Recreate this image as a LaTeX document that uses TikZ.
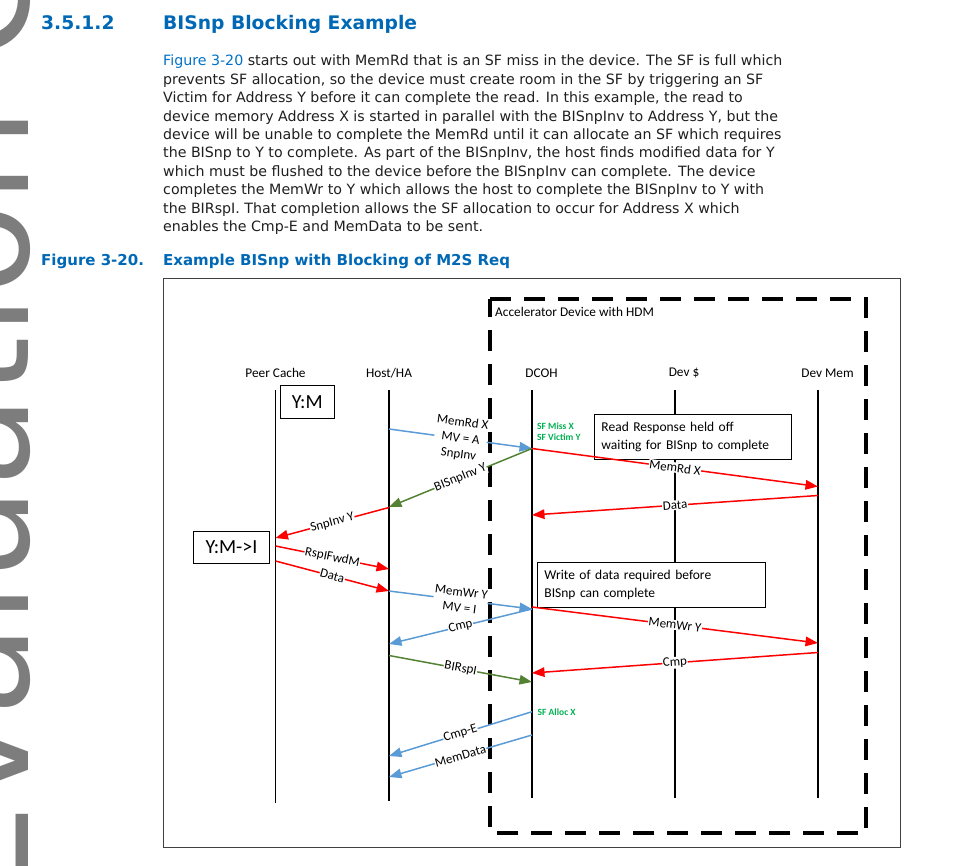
\documentclass[tikz,border=0pt]{standalone}
\usepackage{fontspec}
\setmainfont{DejaVu Sans}
\newfontfamily\calfont{Carlito}
\usetikzlibrary{arrows.meta}
\definecolor{intelblue}{RGB}{0,104,181}
\definecolor{linkblue}{RGB}{0,113,197}
\definecolor{msgred}{RGB}{255,0,0}
\definecolor{msgblue}{RGB}{91,155,213}
\definecolor{msggreen}{RGB}{84,130,53}
\definecolor{sfgreen}{RGB}{0,176,80}
\definecolor{wmgray}{RGB}{125,125,125}
\definecolor{framegray}{RGB}{64,64,64}
\begin{document}
\begin{tikzpicture}[x=1pt,y=-1pt,
  body/.style={anchor=base west, inner sep=0, font=\fontsize{14.2}{18}\selectfont, text=black!88},
  head/.style={anchor=base west, inner sep=0, font=\bfseries\fontsize{18.7}{20}\selectfont, text=intelblue},
  capt/.style={anchor=base west, inner sep=0, font=\bfseries\fontsize{15}{17}\selectfont, text=intelblue},
  lifeline/.style={line width=1.4pt, black},
  msg/.style={line width=1.5pt, -{Triangle[length=12.5pt,width=9.5pt]}},
  lbl/.style={font=\calfont\fontsize{13}{16}\selectfont, text=black, fill=white, inner sep=0.6pt, sloped, align=center},
  hdr/.style={font=\calfont\fontsize{13.3}{15}\selectfont, inner sep=0},
  sfnote/.style={font=\calfont\bfseries\fontsize{9.5}{11}\selectfont, text=sfgreen, inner sep=0, anchor=west},
  statebox/.style={draw, line width=0.9pt, fill=white, font=\calfont\fontsize{20}{22}\selectfont, inner sep=0, anchor=north west},
  notebox/.style={draw, line width=0.9pt, fill=white, font=\calfont\fontsize{13.5}{18}\selectfont, inner xsep=7pt, inner ysep=0, align=left, anchor=north west},
]
\useasboundingbox (0,0) rectangle (979,866);
% watermark
\begin{scope}
\clip (0,0) rectangle (979,866);
\node[rotate=90, anchor=base west, inner sep=0, font=\fontsize{150}{150}\selectfont, text=wmgray] (wm) at (28,900) {Evaluation Copy};
\end{scope}
% heading
\node[head] (hnum) at (41,30) {3.5.1.2};
\node[head] (htitle) at (163,30) {BISnp Blocking Example};
% body
\node[body] (t1) at (163,66) {\textcolor{linkblue}{Figure 3-20} starts out with MemRd that is an SF miss in the device. The SF is full which};
\node[body] (t2) at (163,84.4) {prevents SF allocation, so the device must create room in the SF by triggering an SF};
\node[body] (t3) at (163,102.8) {Victim for Address Y before it can complete the read. In this example, the read to};
\node[body] (t4) at (163,121.2) {device memory Address X is started in parallel with the BISnpInv to Address Y, but the};
\node[body] (t5) at (163,139.6) {device will be unable to complete the MemRd until it can allocate an SF which requires};
\node[body] (t6) at (163,158) {the BISnp to Y to complete. As part of the BISnpInv, the host finds modified data for Y};
\node[body] (t7) at (163,176.4) {which must be flushed to the device before the BISnpInv can complete. The device};
\node[body] (t8) at (163,194.8) {completes the MemWr to Y which allows the host to complete the BISnpInv to Y with};
\node[body] (t9) at (163,213.2) {the BIRspI. That completion allows the SF allocation to occur for Address X which};
\node[body] (t10) at (163,231.6) {enables the Cmp-E and MemData to be sent.};
% caption
\node[capt] (cnum) at (41,266) {Figure 3-20.};
\node[capt] (ctitle) at (163,266) {Example BISnp with Blocking of M2S Req};
% frame
\draw[line width=1pt, framegray] (163,279) rectangle (900,847);
% dashed device box
\draw[line width=4pt, dash pattern=on 21pt off 13pt] (490,299) -- (866,299) -- (866,833) -- (490,833) -- cycle;
\node[hdr, anchor=west] (acc) at (495,312) {Accelerator Device with HDM};
% headers
\node[hdr] (hpc) at (275.5,373) {Peer Cache};
\node[hdr] (hha) at (389,373) {Host/HA};
\node[hdr] (hdc) at (541.5,373) {DCOH};
\node[hdr] (hds) at (684,373) {Dev \$};
\node[hdr] (hdm) at (827.5,373) {Dev Mem};
% lifelines
\coordinate (pcT) at (275.5,390); \coordinate (pcB) at (275.5,803);
\coordinate (haT) at (389,390);   \coordinate (haB) at (389,801);
\coordinate (dcT) at (532,390);   \coordinate (dcB) at (532,798);
\coordinate (dsT) at (675,390);   \coordinate (dsB) at (675,798);
\coordinate (dmT) at (818,390);   \coordinate (dmB) at (818,798);
\draw[lifeline] (pcT) -- (pcB);
\draw[lifeline] (haT) -- (haB);
\draw[lifeline] (dcT) -- (dcB);
\draw[lifeline] (dsT) -- (dsB);
\draw[lifeline] (dmT) -- (dmB);
% state boxes
\node[statebox, minimum width=53.6pt, minimum height=33pt] (ym) at (280,385) {Y:M};
\node[statebox, minimum width=76.6pt, minimum height=32.3pt] (ymi) at (192.7,531) {Y:M->I};
% message endpoints
\coordinate (m1a) at (389,429);   \coordinate (m1b) at (532,448.5);
\coordinate (m2a) at (532,448.5); \coordinate (m2b) at (389,507);
\coordinate (m3a) at (532,448.5); \coordinate (m3b) at (818,486.5);
\coordinate (m4a) at (818,495.5); \coordinate (m4b) at (532,515);
\coordinate (m5a) at (389,507.5); \coordinate (m5b) at (275.5,538);
\coordinate (m6a) at (275.5,546); \coordinate (m6b) at (389,569);
\coordinate (m7a) at (275.5,561); \coordinate (m7b) at (389,591);
\coordinate (m8a) at (389,591);   \coordinate (m8b) at (532,609);
\coordinate (m9a) at (532,607);   \coordinate (m9b) at (818,643);
\coordinate (m10a) at (532,609);  \coordinate (m10b) at (389,644);
\coordinate (m11a) at (389,655.5); \coordinate (m11b) at (532,682);
\coordinate (m12a) at (818,652.5); \coordinate (m12b) at (532,673);
\coordinate (m13a) at (532,711.7); \coordinate (m13b) at (389,756);
\coordinate (m14a) at (532,735);  \coordinate (m14b) at (389,777);
% notes
\node[notebox, minimum width=197pt, minimum height=45pt, text width=183pt] (n1) at (594,414) {Read Response held off\\waiting for BISnp to complete};
\node[notebox, minimum width=228pt, minimum height=45pt, text width=214pt] (n2) at (537,562) {Write of data required before\\BISnp can complete};
% messages
\draw[msg, msgblue] (m1a) -- node[lbl] (l1) {MemRd X\\MV = A\\SnpInv} (m1b);
\draw[msg, msggreen] (m2a) -- node[lbl] (l2) {BISnpInv Y} (m2b);
\draw[msg, msgred] (m3a) -- node[lbl] (l3) {MemRd X} (m3b);
\draw[msg, msgred] (m4a) -- node[lbl] (l4) {Data} (m4b);
\draw[msg, msgred] (m5a) -- node[lbl] (l5) {SnpInv Y} (m5b);
\draw[msg, msgred] (m6a) -- node[lbl] (l6) {RspIFwdM} (m6b);
\draw[msg, msgred] (m7a) -- node[lbl] (l7) {Data} (m7b);
\draw[msg, msgblue] (m8a) -- node[lbl] (l8) {MemWr Y\\MV = I} (m8b);
\draw[msg, msgred] (m9a) -- node[lbl] (l9) {MemWr Y} (m9b);
\draw[msg, msgblue] (m10a) -- node[lbl] (l10) {Cmp} (m10b);
\draw[msg, msggreen] (m11a) -- node[lbl] (l11) {BIRspI} (m11b);
\draw[msg, msgred] (m12a) -- node[lbl] (l12) {Cmp} (m12b);
\draw[msg, msgblue] (m13a) -- node[lbl] (l13) {Cmp-E} (m13b);
\draw[msg, msgblue] (m14a) -- node[lbl] (l14) {MemData} (m14b);
% SF notes
\node[sfnote] (sf1) at (537,426) {SF Miss X};
\node[sfnote] (sf2) at (537,437.5) {SF Victim Y};
\node[sfnote] (sf3) at (537.5,712) {SF Alloc X};
\end{tikzpicture}
\end{document}
